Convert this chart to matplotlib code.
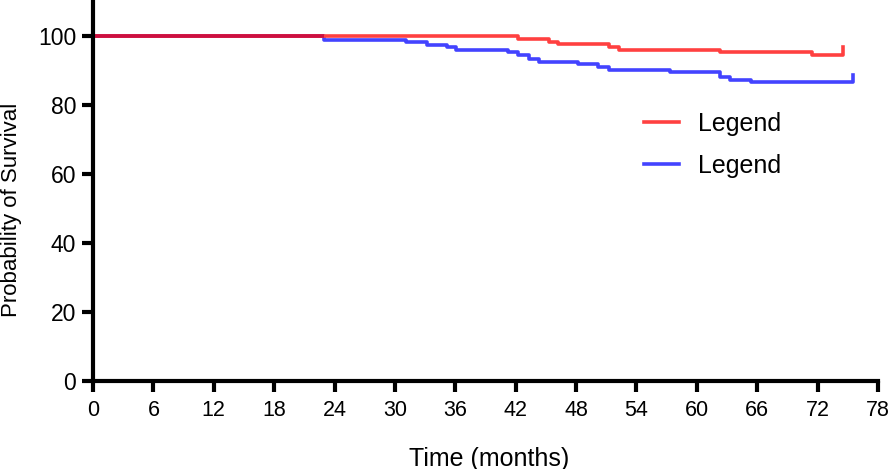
import matplotlib
matplotlib.use('Agg')
from matplotlib import pyplot as plt

plt.rcParams['font.family'] = ['Liberation Sans', 'DejaVu Sans']

# Kaplan-Meier steps
red_t = [0, 42.2, 45.3, 46.2, 51.3, 52.3, 62.3, 71.4, 74.5]
red_s = [100, 99.1, 98.3, 97.6, 96.9, 96.0, 95.3, 94.6, 96.7]

blue_t = [0, 23.0, 31.1, 33.2, 35.2, 36.1, 41.2, 42.2, 43.3, 44.3, 48.2,
          50.2, 51.3, 57.3, 62.3, 63.3, 65.4, 75.5]
blue_s = [100, 98.8, 98.2, 97.5, 96.9, 95.9, 95.3, 94.6, 93.3, 92.5, 91.8,
          91.0, 90.1, 89.6, 88.0, 87.2, 86.6, 88.7]

x_ticks = list(range(0, 79, 6))
y_ticks = [0, 20, 40, 60, 80, 100]

red = '#FF4040'
blue = '#4343FF'
shared = '#CC1040'

fig = plt.figure(figsize=(8.95, 4.69), dpi=100)
ax = fig.add_axes([0.1039, 0.1876, 0.8771, 0.8124])

ax.plot(blue_t, blue_s, drawstyle='steps-post', color=blue, lw=2.6, label='Legend')
ax.plot(red_t, red_s, drawstyle='steps-post', color=red, lw=2.6, label='Legend')
# where both curves sit on top of each other
ax.plot([blue_t[0], blue_t[1]], [blue_s[0], blue_s[0]], color=shared, lw=2.6,
        solid_capstyle='butt')

ax.set_xlim(0, 78)
ax.set_ylim(0, 110.4)
ax.set_xticks(x_ticks)
ax.set_yticks(y_ticks)
ax.tick_params(axis='x', labelsize=15.5, width=3, length=8, pad=6)
ax.tick_params(axis='y', labelsize=16.5, width=3, length=8, pad=4)

for s in ['top', 'right']:
    ax.spines[s].set_visible(False)
for s in ['left', 'bottom']:
    ax.spines[s].set_linewidth(3)

ax.set_xlabel('Time (months)', fontsize=18)
ax.xaxis.set_label_coords(0.505, -0.172)
ax.set_ylabel('Probability of Survival', fontsize=16, va='center')
ax.yaxis.set_label_coords(-0.104, 0.45)

h, l = ax.get_legend_handles_labels()
ax.legend([h[1], h[0]], [l[1], l[0]], loc='center left', bbox_to_anchor=(0.673, 0.62),
          frameon=False, fontsize=18, handlelength=1.4, handletextpad=0.75,
          labelspacing=0.72)

fig.savefig('out.png', dpi=100)
